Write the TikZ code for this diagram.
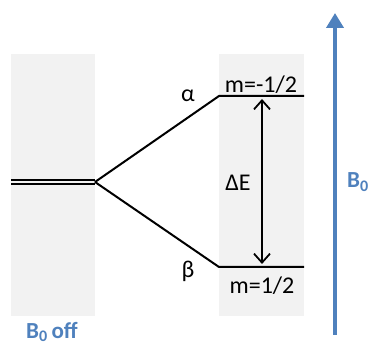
\documentclass[tikz,border=0pt]{standalone}
\usepackage{fontspec}
\setmainfont{Carlito}
\usepackage{tikz}
\usetikzlibrary{arrows.meta}
\usepackage{xcolor}
\definecolor{field}{HTML}{4F81BD}
\definecolor{panel}{HTML}{F2F2F2}
\definecolor{ink}{HTML}{000000}

\begin{document}
\begin{tikzpicture}[x=1pt,y=-1pt,
    level/.style={ink, line width=2pt},
    lbl/.style={font=\fontsize{24}{28}\selectfont, inner sep=0pt},
    blbl/.style={font=\fontsize{23}{28}\selectfont\bfseries, text=field, inner sep=0pt}]
  \useasboundingbox (0,0) rectangle (370,347);
  % shaded columns
  \fill[panel] (11,54) rectangle (95,316);
  \fill[panel] (219,54) rectangle (304,316);
  % levels
  \coordinate (degL) at (11,182);
  \coordinate (deg) at (95,182);
  \coordinate (upL) at (219,96);
  \coordinate (upR) at (304,96);
  \coordinate (loL) at (219,267);
  \coordinate (loR) at (304,267);
  \draw[ink, line width=2.3pt, double=panel, double distance=2pt] (degL) -- (deg);
  \draw[level] (deg) -- (upL) -- (upR);
  \draw[level] (deg) -- (loL) -- (loR);
  % splitting
  \coordinate (gapTop) at (262,99);
  \coordinate (gapBot) at (262,264);
  \draw[ink, line width=1.8pt, {Straight Barb[length=9pt,width=16pt]}-{Straight Barb[length=9pt,width=16pt]}] (gapTop) -- (gapBot);
  \node[lbl] (dE) at (238,183) {ΔE};
  \node[lbl] (alpha) at (188,96) {α};
  \node[lbl] (beta) at (188,271) {β};
  \node[lbl] (mUp) at (261,85) {m=-1/2};
  \node[lbl] (mLo) at (262,286) {m=1/2};
  % field
  \coordinate (fBot) at (335,335);
  \coordinate (fTop) at (335,13);
  \draw[field, line width=4pt, -{Triangle[length=15pt,width=17pt]}] (fBot) -- (fTop);
  \node[blbl] (B0) at (358,182) {B\textsubscript{0}};
  \node[blbl] (B0off) at (52,332) {B\textsubscript{0}\,off};
\end{tikzpicture}
\end{document}
